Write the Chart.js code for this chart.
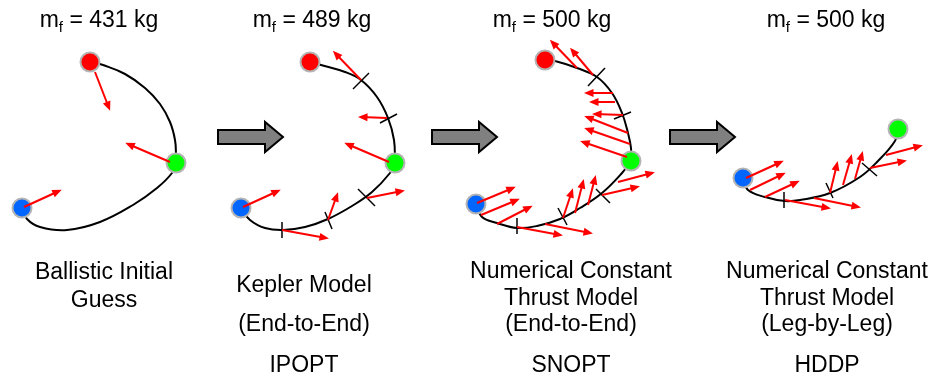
<!DOCTYPE html>
<html>
<head>
<meta charset="utf-8">
<script src="https://cdn.jsdelivr.net/npm/chart.js@4"></script>
<style>
  body { margin: 0; background: #fff; }
  #wrap { position: relative; width: 934px; height: 383px; font-family: "Liberation Sans", Arial, sans-serif; color: #000; }
  #diagram { position: absolute; left: 0; top: 0; }
  .lbl { position: absolute; width: 280px; margin-left: -140px; text-align: center; font-size: 23px; line-height: 23px; white-space: nowrap; }
  .lbl sub { font-size: 15px; vertical-align: -5px; line-height: 0; }
</style>
</head>
<body>
<div id="wrap"><canvas id="diagram" width="934" height="383"></canvas></div>
<script>
// final mass per case (kg)
const finalMass = ['431', '489', '500', '500'];
const titleX = [99, 312, 552, 826];

const captions = [
  ['Ballistic Initial', 'Guess'],
  ['Kepler Model', '(End-to-End)', 'IPOPT'],
  ['Numerical Constant', 'Thrust Model', '(End-to-End)', 'SNOPT'],
  ['Numerical Constant', 'Thrust Model', '(Leg-by-Leg)', 'HDDP']
];
const captionX = [104, 304, 571, 827];
const captionBaselines = [
  [279, 307],
  [292, 331, 372],
  [278, 305, 331, 372],
  [278, 305, 331, 372]
];

// trajectory arcs (x right / y down)
const ballisticUpper = [[92,62],[103,65],[125,74],[145,88],[160,104],[170,122],[175,140],[176,155],[176,163]];
const ballisticLower = [[176,163],[172,173],[157,188],[133,205],[100,222],[67,230],[40,227],[27,219],[22,208]];
const keplerUpper = [[310,62],[321,65],[345,72],[361,80],[377,97],[388,118],[394,140],[395,163]];
const keplerLower = [[395,163],[390,173],[372,192],[352,206],[328,219],[305,227],[283,230],[265,228],[250,220],[241,208]];
const snoptUpper = [[545,60],[555,61],[577,68],[597,77],[612,93],[622,113],[628,133],[631,148],[631,161]];
const snoptLower = [[631,161],[622,173],[602,193],[580,208],[560,219],[537,226],[517,228],[497,223],[482,217],[476,204]];
const hddpPath = [[898,129],[895,141],[877,162],[860,177],[830,193],[800,200],[785,201],[765,197],[748,190],[743,178]];

// segment boundaries (short cross marks)
const segmentTicks = [
  [[353,89],[369,73]], [[380,123],[397,114]], [[358,189],[375,206]], [[325,212],[332,229]], [[282,222],[282,238]],
  [[588,86],[605,68]], [[614,119],[631,112]], [[596,189],[610,203]], [[558,208],[567,225]], [[517,218],[517,234]],
  [[862,163],[877,176]], [[826,183],[833,198]], [[784,192],[784,208]]
];

// thrust vectors: [start, end]
const thrustBallistic = [
  [[95,72],[109,108]], [[170,162],[128,144]], [[24,207],[59,191]]
];
const thrustKepler = [
  [[361,80],[335,53]], [[387,118],[361,117]], [[389,162],[347,144]], [[243,207],[278,191]],
  [[282,230],[326,238]], [[328,220],[337,195]], [[367,198],[402,191]]
];
const thrustSnopt = [
  [[577,68],[552,42]], [[593,75],[572,50]], [[613,93],[587,93]], [[615,102],[592,102]],
  [[623,115],[595,114]], [[628,133],[587,117]], [[630,144],[587,129]], [[627,157],[583,142]],
  [[477,203],[513,188]], [[481,215],[517,200]], [[497,224],[530,207]], [[517,227],[560,235]],
  [[545,224],[590,233]], [[563,218],[572,191]], [[575,213],[583,182]], [[588,205],[595,178]],
  [[602,195],[637,187]], [[618,182],[652,173]]
];
const thrustHddp = [
  [[746,178],[781,162]], [[750,190],[783,174]], [[765,197],[797,182]], [[785,200],[828,208]],
  [[814,198],[858,207]], [[830,193],[837,164]], [[843,185],[851,157]], [[855,179],[862,154]],
  [[870,168],[904,161]], [[886,155],[920,146]]
];

// departure / flyby / arrival bodies
const redNodes = [[90,62],[310,62],[545,60]];
const greenNodes = [[176,163],[395,163],[631,161],[898,129]];
const blueNodes = [[22,208],[241,208],[476,204],[743,178]];

// big grey "next step" arrows
const stepArrowX = [218, 432, 670];
const stepArrowShape = [[0,130],[47,130],[47,122],[65,137],[47,152],[47,144],[0,144]];

const toXY = pts => pts.map(p => ({ x: p[0], y: p[1] }));

const datasets = [];
[ballisticUpper, ballisticLower, keplerUpper, keplerLower, snoptUpper, snoptLower, hddpPath].forEach(c => {
  datasets.push({ data: toXY(c), showLine: true, borderColor: '#000', borderWidth: 2, pointRadius: 0, tension: 0.4, order: 4 });
});
[[redNodes, '#ff0000'], [greenNodes, '#00ff00'], [blueNodes, '#0066ff']].forEach(([n, col]) => {
  datasets.push({ data: toXY(n), showLine: false, pointRadius: 9.5, pointBackgroundColor: col,
    pointBorderColor: '#b4b4b4', pointBorderWidth: 2, order: 3 });
});
segmentTicks.forEach(s => {
  datasets.push({ data: toXY(s), showLine: true, borderColor: '#000', borderWidth: 1.5, pointRadius: 0, order: 2 });
});
[].concat(thrustBallistic, thrustKepler, thrustSnopt, thrustHddp).forEach(a => {
  datasets.push({ data: toXY(a), showLine: true, borderColor: '#ff0000', borderWidth: 2, pointRadius: 0, order: 1, arrow: true });
});

const stepArrows = {
  id: 'stepArrows',
  beforeDatasetsDraw(chart) {
    const { ctx, scales: { x, y } } = chart;
    ctx.save();
    stepArrowX.forEach(x0 => {
      ctx.beginPath();
      stepArrowShape.forEach((p, i) => {
        const px = x.getPixelForValue(x0 + p[0]), py = y.getPixelForValue(p[1]);
        if (i === 0) ctx.moveTo(px, py); else ctx.lineTo(px, py);
      });
      ctx.closePath();
      ctx.fillStyle = '#808080';
      ctx.fill();
      ctx.lineWidth = 2;
      ctx.lineJoin = 'miter';
      ctx.strokeStyle = '#000';
      ctx.stroke();
    });
    ctx.restore();
  }
};

const arrowHeads = {
  id: 'arrowHeads',
  afterDatasetsDraw(chart) {
    const ctx = chart.ctx;
    chart.data.datasets.forEach((ds, i) => {
      if (!ds.arrow) return;
      const pts = chart.getDatasetMeta(i).data;
      const a = pts[0], b = pts[1];
      const ang = Math.atan2(b.y - a.y, b.x - a.x);
      ctx.save();
      ctx.translate(b.x, b.y);
      ctx.rotate(ang);
      ctx.beginPath();
      ctx.moveTo(3, 0);
      ctx.lineTo(-6.5, -4);
      ctx.lineTo(-6.5, 4);
      ctx.closePath();
      ctx.fillStyle = ds.borderColor;
      ctx.fill();
      ctx.restore();
    });
  }
};

new Chart(document.getElementById('diagram'), {
  type: 'scatter',
  data: { datasets: datasets },
  options: {
    responsive: false,
    animation: false,
    events: [],
    layout: { padding: 0, autoPadding: false },
    plugins: { legend: { display: false }, tooltip: { enabled: false } },
    scales: {
      x: { type: 'linear', min: 0, max: 934, display: false },
      y: { type: 'linear', min: 0, max: 383, reverse: true, display: false }
    }
  },
  plugins: [stepArrows, arrowHeads]
});

// text labels
const wrap = document.getElementById('wrap');
function addLabel(html, cx, baseline) {
  const d = document.createElement('div');
  d.className = 'lbl';
  d.innerHTML = html;
  d.style.left = cx + 'px';
  d.style.top = (baseline - 19.4) + 'px';
  wrap.appendChild(d);
}
finalMass.forEach((m, i) => addLabel('m<sub>f</sub> = ' + m + ' kg', titleX[i], 27));
captions.forEach((lines, i) => {
  lines.forEach((t, j) => addLabel(t, captionX[i], captionBaselines[i][j]));
});
</script>
</body>
</html>
